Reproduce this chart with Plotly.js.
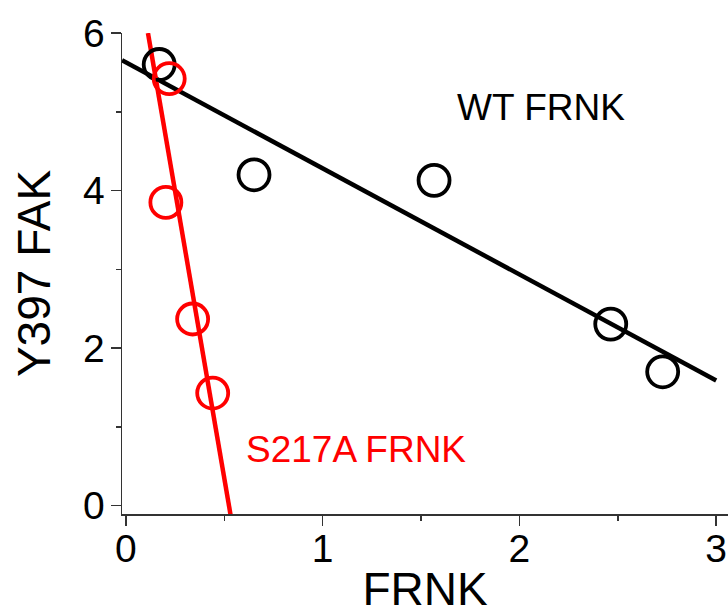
<!DOCTYPE html>
<html>
<head>
<meta charset="utf-8">
<script src="https://cdn.plot.ly/plotly-3.0.1.min.js"></script>
<style>html,body{margin:0;padding:0;background:#fff;}#chart{width:728px;height:615px;}</style>
</head>
<body>
<div id="chart"></div>
<script>
// WT FRNK data
const wtX = [0.169, 0.651, 1.566, 2.464, 2.728];
const wtY = [5.60, 4.20, 4.13, 2.305, 1.70];
// WT fit line
const wtFitX = [-0.02, 3.0];
const wtFitY = [5.654, 1.59];
// S217A FRNK data
const saX = [0.220, 0.203, 0.339, 0.441];
const saY = [5.42, 3.85, 2.37, 1.43];
// S217A fit line
const saFitX = [0.112, 0.532];
const saFitY = [6.0, -0.12];

const xTicks = [0, 1, 2, 3];
const yTicks = [0, 2, 4, 6];
const seriesLabels = ["WT FRNK", "S217A FRNK"];
const xTitle = "FRNK";
const yTitle = "Y397 FAK";

const FONT = "Arial, 'Liberation Sans', sans-serif";

const traces = [
  {x: wtFitX, y: wtFitY, mode: 'lines', line: {color: '#000000', width: 4.5}, hoverinfo: 'skip'},
  {x: saFitX, y: saFitY, mode: 'lines', line: {color: '#ff0000', width: 4.5}, hoverinfo: 'skip'},
  {x: wtX, y: wtY, mode: 'markers', name: seriesLabels[0],
   marker: {symbol: 'circle-open', size: 31, color: '#000000', line: {color: '#000000', width: 3.8}}, cliponaxis: false},
  {x: saX, y: saY, mode: 'markers', name: seriesLabels[1],
   marker: {symbol: 'circle-open', size: 31, color: '#ff0000', line: {color: '#ff0000', width: 3.8}}, cliponaxis: false}
];

const axisCommon = {
  showgrid: false, zeroline: false, showline: true, linecolor: '#333333', linewidth: 1.5,
  ticks: 'outside', tickcolor: '#333333', tickwidth: 1.5, ticklen: 10,
  tickfont: {family: FONT, size: 39, color: '#000000'},
  minor: {ticks: 'outside', ticklen: 5, tickcolor: '#333333', tickwidth: 1.5},
  automargin: false
};

const layout = {
  width: 728, height: 615,
  margin: {l: 122, r: 0, t: 33, b: 101},
  paper_bgcolor: '#ffffff', plot_bgcolor: '#ffffff',
  showlegend: false,
  font: {family: FONT, color: '#000000'},
  xaxis: Object.assign({}, axisCommon, {
    range: [-0.02, 3.06], tickvals: xTicks, ticktext: xTicks.map(String),
    ticklabelstandoff: -10,
    minor: Object.assign({}, axisCommon.minor, {dtick: 0.5, tick0: 0}),
    title: {text: xTitle, font: {family: FONT, size: 46, color: '#000000'}, standoff: 9}
  }),
  yaxis: Object.assign({}, axisCommon, {
    range: [-0.105, 6.0], tickvals: yTicks, ticktext: yTicks.map(String),
    ticklabelstandoff: -2,
    minor: Object.assign({}, axisCommon.minor, {dtick: 1, tick0: 0}),
    title: {text: yTitle, font: {family: FONT, size: 46, color: '#000000'}, standoff: 18}
  }),
  annotations: [
    {text: seriesLabels[0], xref: 'paper', yref: 'paper', x: (541-122)/606, y: (615-101-107)/481,
     showarrow: false, xanchor: 'center', yanchor: 'middle', font: {family: FONT, size: 37, color: '#000000'}},
    {text: seriesLabels[1], xref: 'paper', yref: 'paper', x: (356-122)/606, y: (615-101-449)/481,
     showarrow: false, xanchor: 'center', yanchor: 'middle', font: {family: FONT, size: 37, color: '#ff0000'}}
  ]
};

Plotly.newPlot('chart', traces, layout, {displayModeBar: false, staticPlot: true});
</script>
</body>
</html>
